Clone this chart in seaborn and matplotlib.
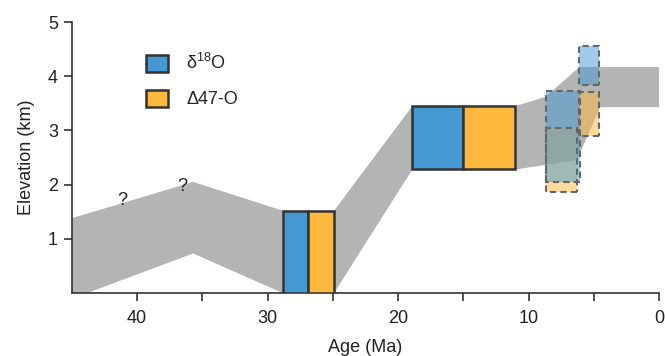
import numpy as np
import matplotlib
matplotlib.use('Agg')
import matplotlib.pyplot as plt
import seaborn as sns
from matplotlib.patches import Patch

# Elevation envelope (gray band), ages in Ma, elevations in km
band_upper_age = [45.0, 35.7, 28.85, 24.9, 18.9, 11.0, 8.7, 6.1, 0.0]
band_upper_elev = [1.38, 2.05, 1.52, 1.52, 3.45, 3.45, 3.62, 4.17, 4.17]
band_lower_age = [0.0, 4.5, 6.3, 11.0, 18.9, 24.9, 28.85, 35.7, 43.8, 45.0]
band_lower_elev = [3.43, 3.43, 2.45, 2.28, 2.28, 0.0, 0.0, 0.73, 0.0, 0.0]

# Solid boxes: (old age, young age, bottom, top)
d18o_boxes = [(28.85, 26.9, 0.0, 1.52), (18.9, 15.0, 2.28, 3.45)]
d47_boxes = [(26.9, 24.9, 0.0, 1.52), (15.0, 11.0, 2.28, 3.45)]

# Dashed (uncertain) boxes
d18o_dashed = [(8.66, 6.05, 2.05, 3.72), (6.13, 4.57, 3.84, 4.56)]
d47_dashed = [(8.66, 6.3, 1.86, 3.04), (6.13, 4.57, 2.90, 3.71)]

# Question marks
q_age = [41.1, 36.5]
q_elev = [1.70, 1.97]

blue = '#4599D2'
orange = '#FDB93D'
gray = '#B3B5B5'
edge = '#333333'
txt = '#222222'


def draw_boxes(ax, boxes, color, dashed=False):
    for old, young, bot, top in boxes:
        if dashed:
            ax.bar(young, top - bot, width=old - young, bottom=bot, align='edge',
                   color=color, alpha=0.5, edgecolor='none', zorder=3)
            ax.bar(young, top - bot, width=old - young, bottom=bot, align='edge',
                   fill=False, edgecolor='#666666', linestyle=(0, (3, 2)),
                   linewidth=1.5, zorder=4)
        else:
            ax.bar(young, top - bot, width=old - young, bottom=bot, align='edge',
                   color=color, edgecolor=edge, linewidth=1.8, zorder=3)


def main():
    sns.set_style('ticks')
    plt.rcParams['font.family'] = ['Liberation Sans', 'DejaVu Sans']
    plt.rcParams['mathtext.fontset'] = 'custom'
    plt.rcParams['mathtext.rm'] = 'Liberation Sans'

    fig = plt.figure(figsize=(6.65, 3.56), dpi=100)
    ax = fig.add_axes([0.108, 0.177, 0.883, 0.761])

    poly_x = band_upper_age + band_lower_age
    poly_y = band_upper_elev + band_lower_elev
    ax.fill(poly_x, poly_y, color=gray, edgecolor='none', zorder=1)

    draw_boxes(ax, d18o_boxes, blue)
    draw_boxes(ax, d47_boxes, orange)
    draw_boxes(ax, d47_dashed, orange, dashed=True)
    draw_boxes(ax, d18o_dashed, blue, dashed=True)

    for a, e in zip(q_age, q_elev):
        ax.text(a, e, '?', ha='center', va='center', fontsize=13, color=txt)

    ax.set_xlim(45, 0)
    ax.set_ylim(0, 5)
    ticks = np.arange(0, 41, 5)
    ax.set_xticks(ticks)
    ax.set_xticklabels([str(t) if t % 10 == 0 else '' for t in ticks])
    ax.set_yticks([1, 2, 3, 4, 5])
    ax.tick_params(direction='out', length=6, width=1.2, color=edge,
                   labelsize=13, labelcolor=txt)
    ax.tick_params(axis='x', pad=6)
    ax.tick_params(axis='y', pad=4)
    for s in ['left', 'bottom']:
        ax.spines[s].set_color(edge)
        ax.spines[s].set_linewidth(1.2)
    sns.despine(ax=ax)

    ax.set_xlabel('Age (Ma)', fontsize=13, color=txt, labelpad=9)
    ax.set_ylabel('Elevation (km)', fontsize=13, color=txt, labelpad=9)

    handles = [Patch(facecolor=blue, edgecolor=edge, linewidth=1.8),
               Patch(facecolor=orange, edgecolor=edge, linewidth=1.8)]
    ax.legend(handles, ['δ$^{18}$O', 'Δ47-O'], loc='upper left',
              bbox_to_anchor=(0.127, 0.885), frameon=False, fontsize=13,
              handlelength=1.2, handleheight=1.1, handletextpad=1.0,
              labelspacing=0.9, borderpad=0, borderaxespad=0)

    fig.savefig('out.png', dpi=100)


if __name__ == '__main__':
    main()
